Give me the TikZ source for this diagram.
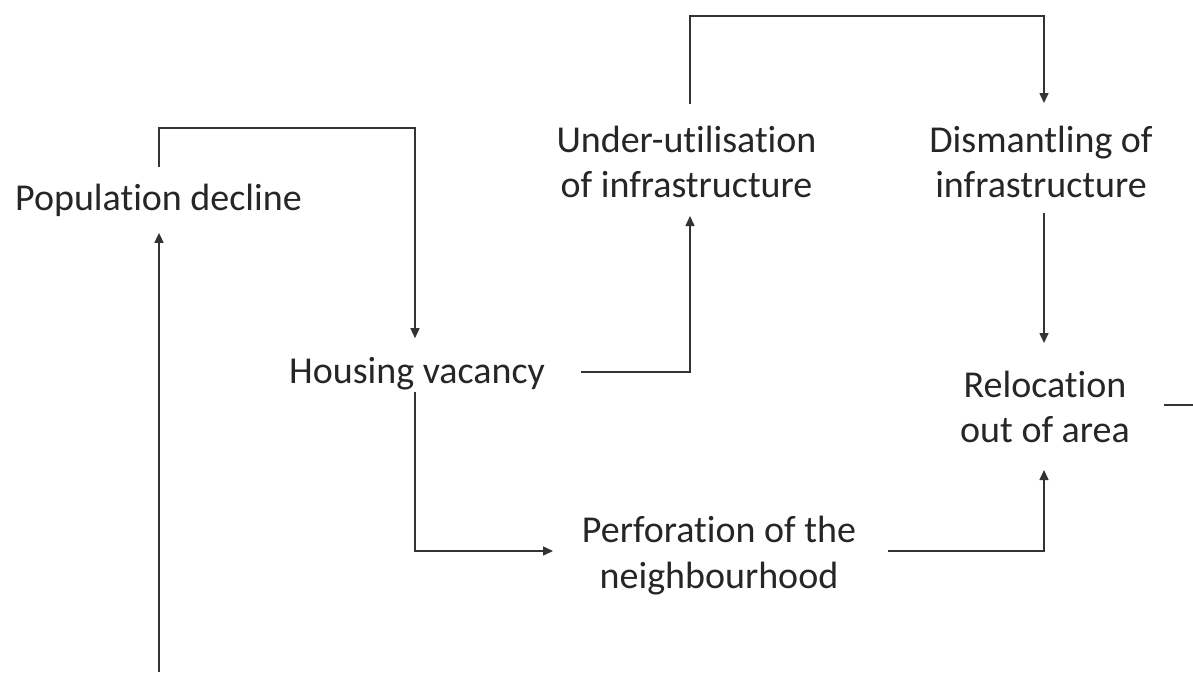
\documentclass[tikz,border=0pt]{standalone}
\usepackage{fontspec}
\setmainfont[Ligatures=NoCommon]{Carlito}
\usetikzlibrary{arrows.meta,calc}
\begin{document}
\begin{tikzpicture}[x=1pt,y=-1pt,
  lbl/.style={inner sep=0pt,text=black!85,font=\fontsize{38}{45.5}\selectfont,align=center},
  ln/.style={draw=black!80,line width=1.5pt},
  arr/.style={ln,-{Triangle[length=10pt,width=9pt]}}]
\useasboundingbox (0,0) rectangle (1193,672);
\node[lbl,anchor=base] (pop) at (158.5,210) {Population decline};
\node[lbl,anchor=base] (hv) at (417,383) {Housing vacancy};
\node[lbl] (uu) at (686.5,162) {Under-utilisation\\of infrastructure};
\node[lbl] (dm) at (1041,162) {Dismantling of\\infrastructure};
\node[lbl] (rel) at (1045,407) {Relocation\\out of area};
\node[lbl] (perf) at (719,555.5) {Perforation of the\\neighbourhood};
% population decline -> housing vacancy
\draw[arr] ($(pop.center)+(0.5,-33)$) -- ++(0,-39) -| ($(hv.center)+(-2,-35)$);
% housing vacancy -> under-utilisation
\draw[arr] ($(hv.center)+(164,-1)$) -| ($(uu.center)+(3.5,54)$);
% under-utilisation -> dismantling
\draw[arr] ($(uu.center)+(3.5,-58)$) -- ++(0,-88) -| ($(dm.center)+(3,-59)$);
% dismantling -> relocation
\draw[arr] ($(dm.center)+(3,51)$) -- ($(rel.center)+(-1,-64)$);
% housing vacancy -> perforation
\draw[arr] ($(hv.center)+(-2,19)$) |- ($(perf.center)+(-166,-4.5)$);
% perforation -> relocation
\draw[arr] ($(perf.center)+(169,-4.5)$) -| ($(rel.center)+(-1,63)$);
% relocation -> out (stub)
\coordinate (relout) at (1193,405);
\draw[ln] ($(rel.center)+(119,-2)$) -- (relout);
% incoming feedback to population decline
\coordinate (feedin) at (159,672);
\draw[arr] (feedin) -- ($(pop.center)+(0.5,33)$);
\end{tikzpicture}
\end{document}
